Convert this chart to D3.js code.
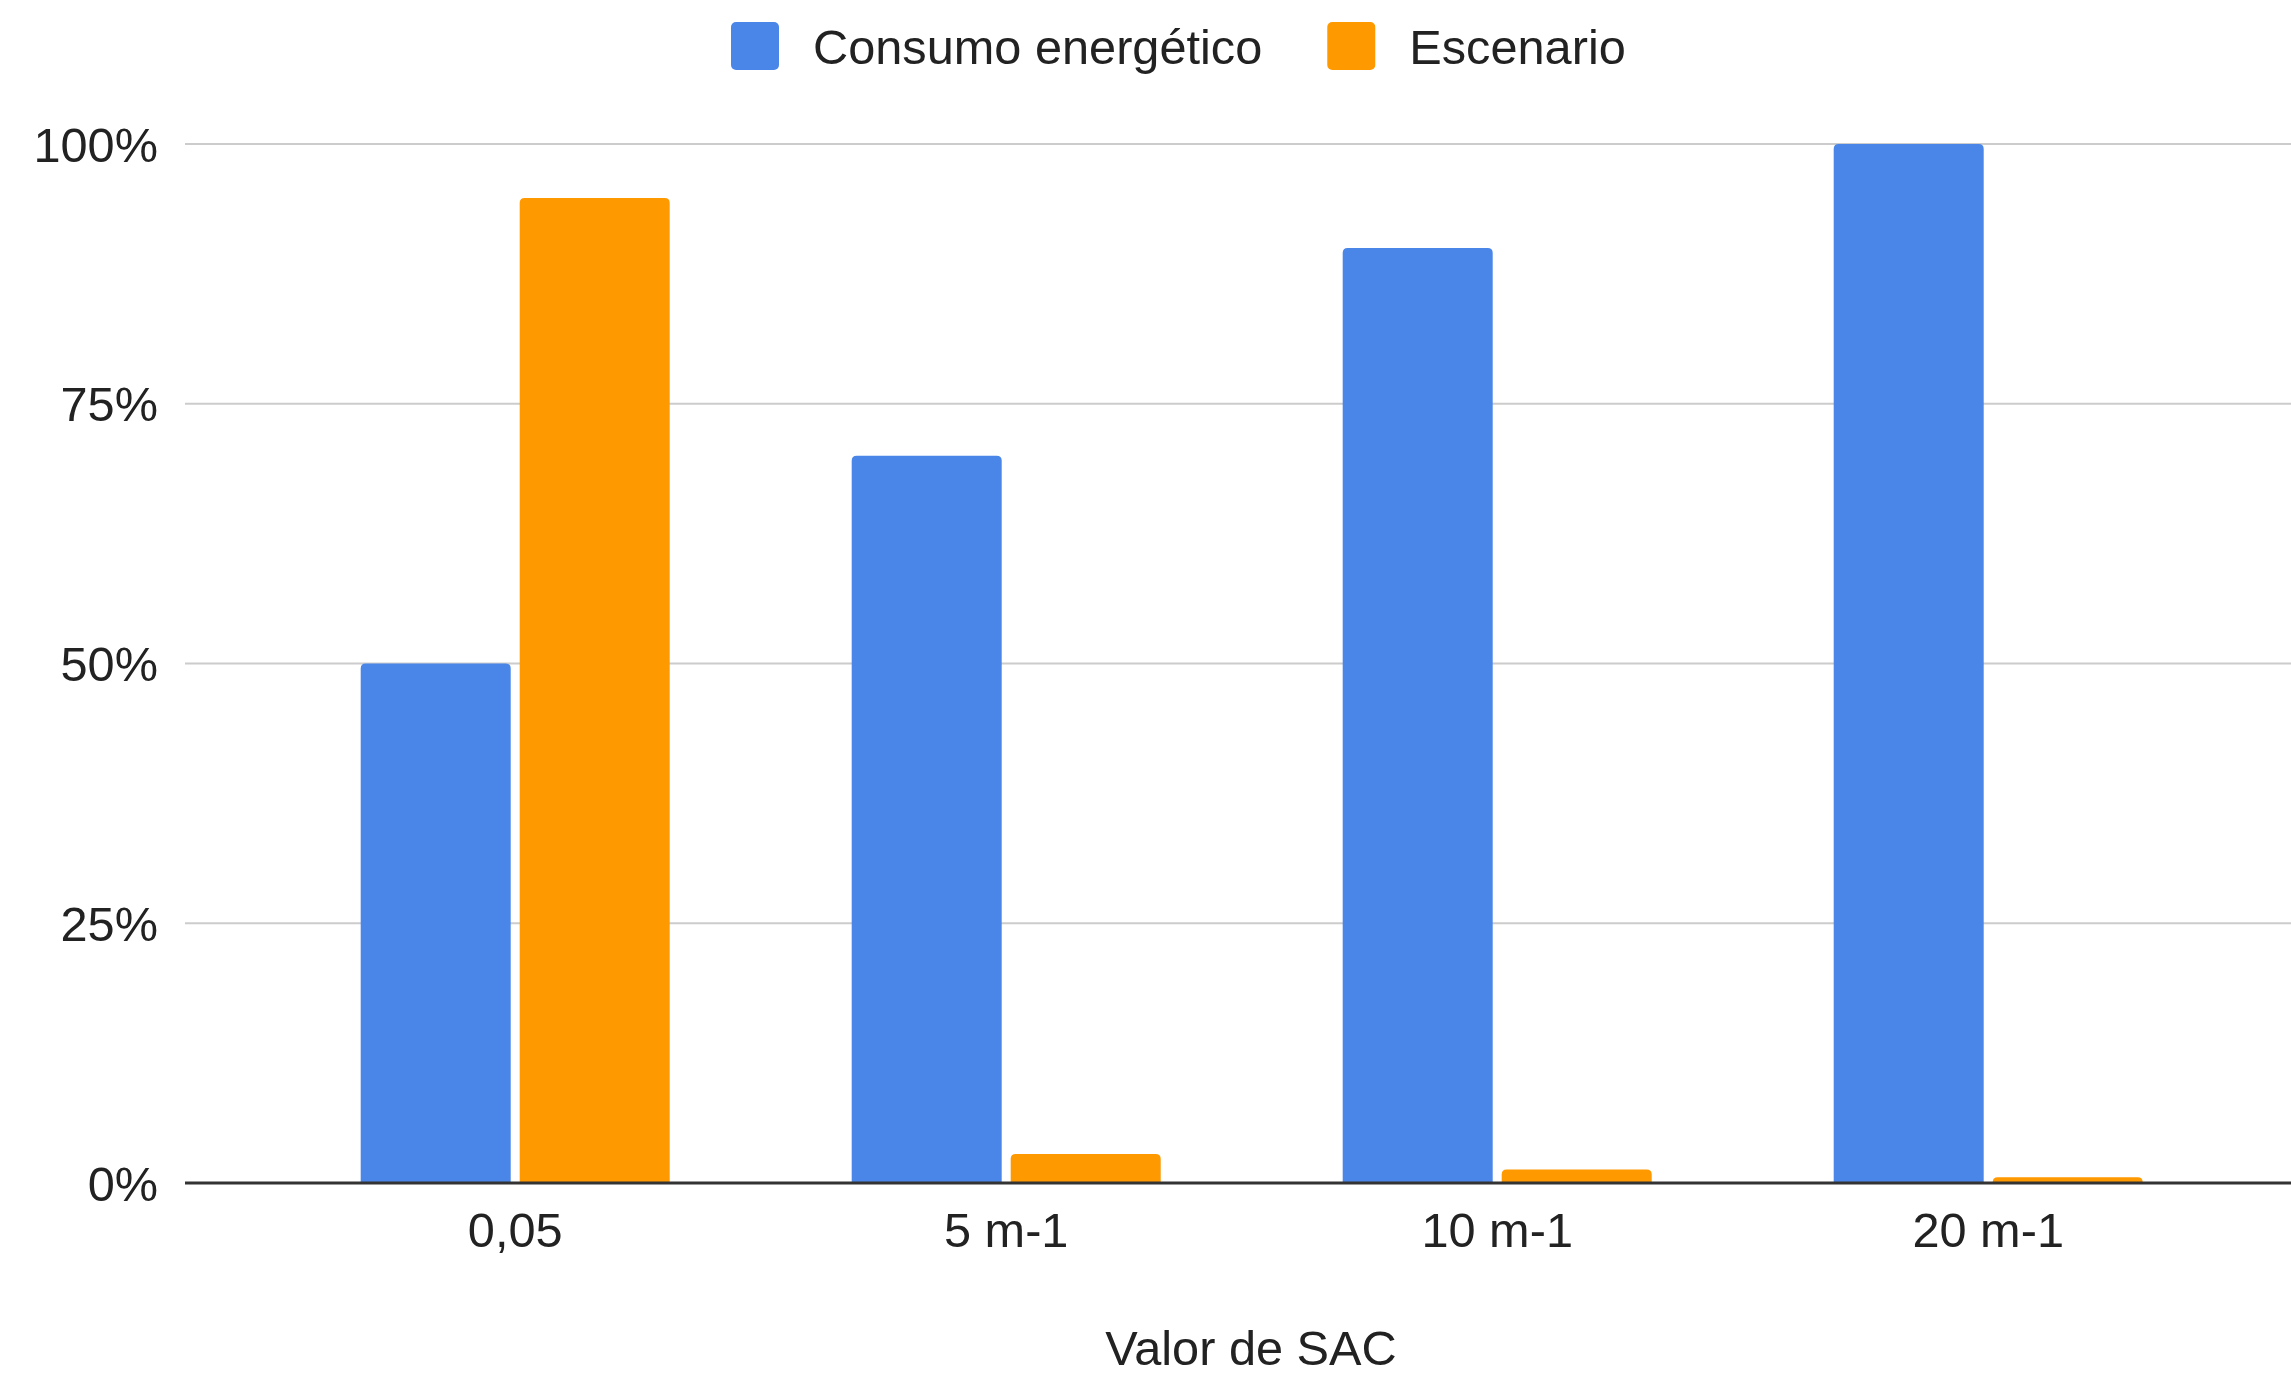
<!DOCTYPE html>
<html>
<head>
<meta charset="utf-8">
<script src="https://cdn.jsdelivr.net/npm/d3@7"></script>
<style>
  html, body { margin: 0; padding: 0; background: #ffffff; }
  svg text { font-family: "Liberation Sans", Arial, sans-serif; fill: #222222; }
</style>
</head>
<body>
<svg id="chart" width="2291" height="1375"></svg>
<script>
// Categories along the x axis
const categories = ["0,05", "5 m-1", "10 m-1", "20 m-1"];
// Series names (legend order)
const seriesNames = ["Consumo energético", "Escenario"];
// Values per series, as fractions of 100%
const consumoValues = [0.50, 0.70, 0.90, 1.00];
const escenarioValues = [0.948, 0.028, 0.013, 0.0055];
// Y axis ticks
const yTicks = [0, 0.25, 0.5, 0.75, 1];
const xTitle = "Valor de SAC";

const colors = ["#4a86e8", "#ff9900"];
const seriesValues = [consumoValues, escenarioValues];
const fontSize = 48.7;

const svg = d3.select("#chart");

// Layout
const plotLeft = 185, plotRight = 2291;
const yBottom = 1183, yTop = 144;

const y = d3.scaleLinear().domain([0, 1]).range([yBottom, yTop]);

const x0 = d3.scaleBand()
  .domain(categories)
  .range([269.7, 2233.7])
  .paddingInner(1 - 309 / 491)
  .paddingOuter((1 - 309 / 491) / 2);

const x1 = d3.scaleBand()
  .domain(seriesNames)
  .range([0, x0.bandwidth()])
  .paddingInner(9 / 159)
  .paddingOuter(0);

// Gridlines
svg.append("g")
  .selectAll("line")
  .data(yTicks.filter(d => d !== 0))
  .join("line")
  .attr("x1", plotLeft)
  .attr("x2", plotRight)
  .attr("y1", d => y(d))
  .attr("y2", d => y(d))
  .attr("stroke", "#cccccc")
  .attr("stroke-width", 2);

// Y tick labels
const fmt = d3.format(".0%");
svg.append("g")
  .selectAll("text")
  .data(yTicks)
  .join("text")
  .attr("x", 158)
  .attr("y", d => y(d))
  .attr("dy", "0.36em")
  .attr("text-anchor", "end")
  .attr("font-size", fontSize)
  .text(d => fmt(d));

// Bars with rounded top corners
function topRoundedBar(x, yTopPx, w, h, r) {
  r = Math.min(r, h, w / 2);
  return `M${x},${yTopPx + h}` +
    `V${yTopPx + r}` +
    `Q${x},${yTopPx} ${x + r},${yTopPx}` +
    `H${x + w - r}` +
    `Q${x + w},${yTopPx} ${x + w},${yTopPx + r}` +
    `V${yTopPx + h}Z`;
}

const barData = [];
categories.forEach((c, i) => {
  seriesNames.forEach((s, j) => {
    barData.push({ cat: c, series: s, value: seriesValues[j][i], color: colors[j] });
  });
});

svg.append("g")
  .selectAll("path")
  .data(barData)
  .join("path")
  .attr("d", d => {
    const bx = x0(d.cat) + x1(d.series);
    const by = y(d.value);
    return topRoundedBar(bx, by, x1.bandwidth(), yBottom - by, 5);
  })
  .attr("fill", d => d.color);

// Baseline
svg.append("line")
  .attr("x1", plotLeft)
  .attr("x2", plotRight)
  .attr("y1", y(0))
  .attr("y2", y(0))
  .attr("stroke", "#333333")
  .attr("stroke-width", 3);

// X axis labels
const xAxis = d3.axisBottom(x0).tickSize(0).tickPadding(0);
const xg = svg.append("g")
  .attr("transform", `translate(0,1247)`)
  .call(xAxis);
xg.select(".domain").remove();
xg.selectAll("text")
  .attr("y", 0)
  .attr("dy", 0)
  .attr("font-size", fontSize)
  .style("font-family", '"Liberation Sans", Arial, sans-serif')
  .attr("fill", "#222222");

// X axis title
svg.append("text")
  .attr("x", 1251)
  .attr("y", 1365)
  .attr("text-anchor", "middle")
  .attr("font-size", fontSize)
  .text(xTitle);

// Legend
const legend = svg.append("g");
let lx = 731;
seriesNames.forEach((name, i) => {
  legend.append("rect")
    .attr("x", lx)
    .attr("y", 22)
    .attr("width", 48)
    .attr("height", 48)
    .attr("rx", 5)
    .attr("fill", colors[i]);
  const t = legend.append("text")
    .attr("x", lx + 82)
    .attr("y", 46)
    .attr("dy", "0.36em")
    .attr("font-size", fontSize)
    .text(name);
  lx = lx + 82 + t.node().getComputedTextLength() + 65;
});
</script>
</body>
</html>
